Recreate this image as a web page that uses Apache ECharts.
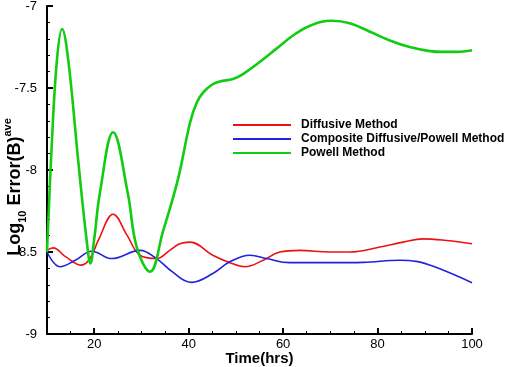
<!DOCTYPE html>
<html>
<head>
<meta charset="utf-8">
<script src="https://cdn.jsdelivr.net/npm/echarts@6/dist/echarts.min.js"></script>
<style>
  html, body { margin: 0; padding: 0; background: #fff; }
  #chart { width: 519px; height: 367px; }
</style>
</head>
<body>
<div id="chart"></div>
<script>
// Powell method (green)
const timePowell = [10, 11, 12.1, 13.2, 14.5, 16.6, 18.4, 19.2, 20, 21.2, 24, 27.1, 29, 31.8, 34.6, 37.7, 40.3, 41.7, 43, 44.9, 46.6, 49.4, 51.5, 55.1, 58.6, 62.1, 65.7, 70.3, 74.1, 78.4, 82.6, 86.8, 91.1, 93.8, 96.7, 100];
const powell = [-8.5, -7.85, -7.33, -7.14, -7.33, -7.94, -8.43, -8.57, -8.42, -8.14, -7.77, -8.14, -8.47, -8.62, -8.37, -8.06, -7.71, -7.59, -7.53, -7.48, -7.46, -7.445, -7.415, -7.34, -7.26, -7.18, -7.12, -7.09, -7.105, -7.157, -7.21, -7.25, -7.275, -7.28, -7.28, -7.27];

// Diffusive method (red)
const timeDiffusive = [10, 11.3, 14, 17.3, 19.1, 21, 24, 27, 29.7, 33.2, 36, 38.1, 40.3, 45.1, 48.7, 51.9, 55.8, 59.3, 63.5, 69.9, 74.1, 80.5, 85.4, 89.6, 94.6, 100];
const diffusive = [-8.49, -8.475, -8.53, -8.58, -8.54, -8.42, -8.27, -8.4, -8.52, -8.54, -8.49, -8.45, -8.44, -8.52, -8.565, -8.59, -8.55, -8.5, -8.49, -8.5, -8.5, -8.47, -8.44, -8.42, -8.43, -8.45];

// Composite diffusive/Powell (blue)
const timeComposite = [10, 12.75, 16, 19.5, 23.7, 29.7, 33.2, 36.5, 40.6, 45.2, 48.7, 53, 56.5, 61.4, 69.9, 77, 84.7, 88.2, 92.5, 100];
const composite = [-8.5, -8.59, -8.55, -8.495, -8.54, -8.49, -8.54, -8.62, -8.685, -8.63, -8.56, -8.52, -8.54, -8.565, -8.565, -8.563, -8.55, -8.557, -8.595, -8.687];

const xMajorTicks = [20, 40, 60, 80, 100];
const seriesNames = ["Diffusive Method", "Composite Diffusive/Powell Method", "Powell Method"];

const pairs = (xs, ys) => xs.map((x, i) => [x, ys[i]]);

const FONT = "Liberation Sans, Arial";
const chart = echarts.init(document.getElementById("chart"));

const option = {
  animation: false,
  grid: { left: 47, right: 47, top: 6, bottom: 33, outerBoundsMode: "none" },

  // y轴标题（带上下标）
  graphic: [
    {
      type: "text",
      x: 15,
      y: 187,
      rotation: Math.PI / 2,
      style: {
        text: "{a|Log}{sub|10}{a| Error(B)}{sup|ave}",
        align: "center",
        verticalAlign: "middle",
        rich: {
          a: { fontFamily: FONT, fontSize: 18, fontWeight: "bold", fill: "#000", lineHeight: 26, verticalAlign: "middle" },
          sub: { fontFamily: FONT, fontSize: 11, fontWeight: "bold", fill: "#000", lineHeight: 26, verticalAlign: "bottom" },
          sup: { fontFamily: FONT, fontSize: 11, fontWeight: "bold", fill: "#000", lineHeight: 26, verticalAlign: "top" },
        },
      },
    },
  ],

  legend: {
    orient: "vertical",
    left: 228,
    top: 114,
    icon: "rect",
    itemWidth: 58,
    itemHeight: 2,
    itemGap: 2,
    data: seriesNames,
    textStyle: {
      fontFamily: FONT,
      fontSize: 12,
      fontWeight: "bold",
      color: "#000",
      padding: [0, 0, 0, 5],
    },
  },

  // x轴：小刻度轴 + 主刻度轴叠在一起
  xAxis: [
    {
      type: "value",
      min: 10,
      max: 100,
      interval: 5,
      name: "Time(hrs)",
      nameLocation: "middle",
      nameGap: 17,
      nameTextStyle: { fontFamily: FONT, fontSize: 15, fontWeight: "bold", color: "#000" },
      axisLine: { lineStyle: { color: "#000", width: 2 } },
      axisTick: { inside: true, length: 3, lineStyle: { color: "#000", width: 1 } },
      axisLabel: { show: false },
      splitLine: { show: false },
    },
    {
      type: "value",
      min: 10,
      max: 100,
      position: "bottom",
      axisLine: { show: false },
      axisTick: { inside: true, length: 6, customValues: xMajorTicks, lineStyle: { color: "#000", width: 2 } },
      axisLabel: {
        customValues: xMajorTicks,
        margin: 4,
        fontFamily: FONT,
        fontSize: 13,
        color: "#000",
      },
      splitLine: { show: false },
    },
  ],

  yAxis: {
    type: "value",
    min: -9,
    max: -7,
    interval: 0.5,
    axisLine: { show: true, lineStyle: { color: "#000", width: 2 } },
    axisTick: { show: true, inside: true, length: 6, lineStyle: { color: "#000", width: 2 } },
    minorTick: { show: true, splitNumber: 5, length: 3, lineStyle: { color: "#000", width: 1 } },
    axisLabel: { margin: 10, fontFamily: FONT, fontSize: 13, color: "#000" },
    splitLine: { show: false },
  },

  series: [
    {
      name: seriesNames[0],
      type: "line",
      data: pairs(timeDiffusive, diffusive),
      smooth: 0.4,
      showSymbol: false,
      color: "#ee1111",
      lineStyle: { width: 1.6 },
      z: 3,
    },
    {
      name: seriesNames[1],
      type: "line",
      data: pairs(timeComposite, composite),
      smooth: 0.4,
      showSymbol: false,
      color: "#2222dd",
      lineStyle: { width: 1.6 },
      z: 3,
    },
    {
      name: seriesNames[2],
      type: "line",
      data: pairs(timePowell, powell),
      smooth: 0.4,
      showSymbol: false,
      color: "#11cc11",
      lineStyle: { width: 2.6 },
      z: 4,
    },
  ],
};

chart.setOption(option);
</script>
</body>
</html>
